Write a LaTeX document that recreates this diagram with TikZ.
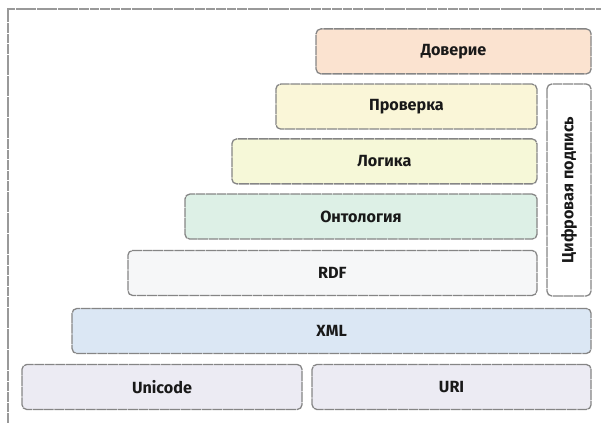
\documentclass[tikz,border=0pt]{standalone}
\usepackage{fontspec}
\setmainfont{Fira Sans}
\usetikzlibrary{calc}
\definecolor{trustc}{HTML}{FBE3D0}
\definecolor{proofc}{HTML}{FAF6D8}
\definecolor{logicc}{HTML}{F6F8D8}
\definecolor{ontoc}{HTML}{DDF0E6}
\definecolor{rdfc}{HTML}{F6F7F8}
\definecolor{xmlc}{HTML}{DBE7F4}
\definecolor{basec}{HTML}{ECEBF3}
\definecolor{edgec}{HTML}{858585}
\tikzset{
   layer/.style = {rectangle, draw=edgec, rounded corners=1.2mm,
      dash pattern=on 7pt off 0.5pt, line width=0.32mm,
      font=\bfseries\fontsize{11.5}{13}\selectfont, text=black!90,
      minimum height=11.25mm},
   frame/.style = {draw=black!40, dash pattern=on 7pt off 0.5pt, line width=0.3mm},
}

\begin{document}
\begin{tikzpicture}
      \useasboundingbox (0,0) rectangle (150.25mm,105.75mm);
      \draw[frame] (2mm,0) -- (2mm,103.5mm) -- (150.25mm,103.5mm);

      \node[
         layer,
         fill=trustc,
         minimum width=68.75mm,
      ] (trust) at (113.4mm,92.9mm){Доверие};

      \node[
         layer,
         fill=proofc,
         minimum width=65.25mm,
      ] (proof) at (101.6mm,79.1mm){Проверка};

      \node[
         layer,
         fill=logicc,
         minimum width=76.25mm,
      ] (logic) at (96.1mm,65.4mm){Логика};

      \node[
         layer,
         fill=ontoc,
         minimum width=88mm,
      ] (onto) at (90.25mm,51.6mm){Онтология};

      \node[
         layer,
         fill=rdfc,
         minimum width=102.25mm,
      ] (rdf) at (83.1mm,37.5mm){RDF};

      \node[
         layer,
         fill=white,
         rotate=90,
         minimum width=53mm,
         minimum height=11mm,
      ] (sign) at (142.25mm,58.25mm){Цифровая подпись};

      \node[
         layer,
         fill=xmlc,
         minimum width=129.75mm,
      ] (xml) at (82.9mm,23mm){XML};

      \node[
         layer,
         fill=basec,
         minimum width=70mm,
      ] (unicode) at (40.5mm,9mm){Unicode};

      \node[
         layer,
         fill=basec,
         minimum width=69.75mm,
      ] (uri) at (112.9mm,9mm){URI};

\end{tikzpicture}
\end{document}
